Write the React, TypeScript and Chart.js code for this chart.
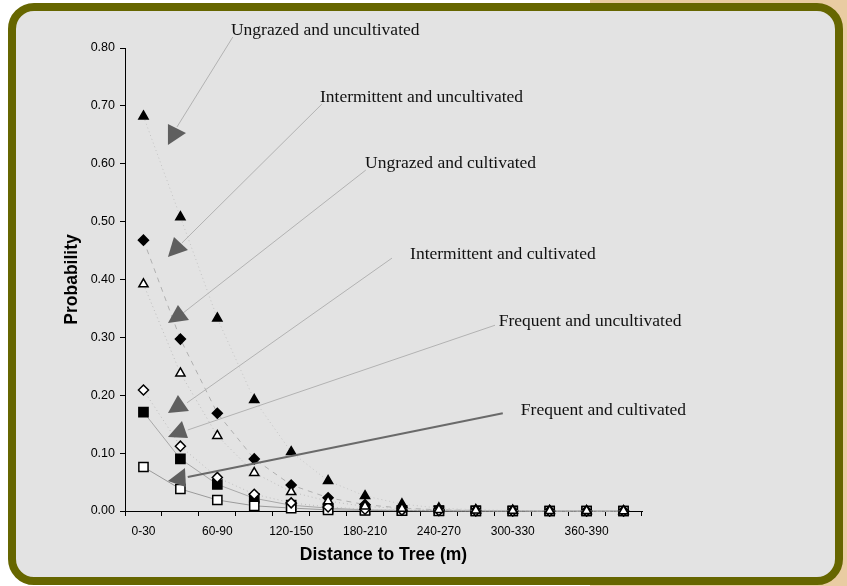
import React, { useEffect, useRef } from "react";
import { Chart, registerables } from "chart.js";

Chart.register(...registerables);

// ---- data ----
const categories = [
  "0-30", "30-60", "60-90", "90-120", "120-150", "150-180", "180-210",
  "210-240", "240-270", "270-300", "300-330", "330-360", "360-390", "390-420",
];
const ungrazedUncultivated = [0.682, 0.508, 0.333, 0.192, 0.102, 0.052, 0.026, 0.012, 0.005, 0.002, 0.001, 0.0005, 0.0002, 0.0001];
const intermittentUncultivated = [0.468, 0.297, 0.169, 0.09, 0.045, 0.023, 0.011, 0.005, 0.002, 0.001, 0.0005, 0.0002, 0.0001, 0];
const ungrazedCultivated = [0.392, 0.238, 0.13, 0.066, 0.033, 0.017, 0.008, 0.004, 0.002, 0.001, 0.0005, 0.0002, 0.0001, 0];
const intermittentCultivated = [0.209, 0.112, 0.058, 0.029, 0.014, 0.007, 0.003, 0.0015, 0.0007, 0.0003, 0.0001, 0, 0, 0];
const frequentUncultivated = [0.171, 0.09, 0.046, 0.022, 0.01, 0.005, 0.002, 0.001, 0.0005, 0.0002, 0.0001, 0, 0, 0];
const frequentCultivated = [0.076, 0.038, 0.019, 0.009, 0.005, 0.002, 0.001, 0.0005, 0.0002, 0.0001, 0, 0, 0, 0];

const yMin = 0;
const yMax = 0.8;
const yStep = 0.1;
const xTitle = "Distance to Tree (m)";
const yTitle = "Probability";

// annotation labels (positions in data units: category index, probability)
const annotationLabels = [
  "Ungrazed and uncultivated",
  "Intermittent and uncultivated",
  "Ungrazed and cultivated",
  "Intermittent and cultivated",
  "Frequent and uncultivated",
  "Frequent and cultivated",
];
const annotationTextAt = [
  [2.37, 0.831], [4.78, 0.714], [6.0, 0.6], [7.22, 0.444], [9.62, 0.328], [10.22, 0.1745],
];
const annotationLineFrom = [
  [2.42, 0.819], [4.83, 0.703], [6.02, 0.589], [6.73, 0.437], [9.52, 0.321], [9.73, 0.169],
];
const annotationLineTo = [
  [0.907, 0.6635], [1.04, 0.463], [1.07, 0.342], [1.18, 0.187], [1.2, 0.14], [1.2, 0.0588],
];
const annotationHeads = [
  [[0.663, 0.6687], [1.151, 0.6532], [0.663, 0.6324]],
  [[0.826, 0.4734], [1.205, 0.451], [0.663, 0.4389]],
  [[0.934, 0.356], [1.232, 0.33], [0.663, 0.3248]],
  [[0.934, 0.2004], [1.232, 0.1728], [0.663, 0.1693]],
  [[1.0425, 0.1555], [1.205, 0.1261], [0.663, 0.1279]],
  [[1.124, 0.0743], [1.151, 0.0415], [0.663, 0.0518]],
];
const annotationDark = [false, false, false, false, false, true];

const arrowsPlugin = {
  id: "arrows",
  afterDatasetsDraw(chart: any) {
    const { ctx } = chart;
    const xs = chart.scales.x;
    const ys = chart.scales.y;
    const px = (v: number) => xs.getPixelForValue(v);
    const py = (v: number) => ys.getPixelForValue(v);
    ctx.save();
    annotationLabels.forEach((label, i) => {
      const dark = annotationDark[i];
      ctx.beginPath();
      ctx.strokeStyle = dark ? "#6a6a6a" : "#b2b2b2";
      ctx.lineWidth = dark ? 2 : 1;
      ctx.setLineDash([]);
      ctx.moveTo(px(annotationLineFrom[i][0]), py(annotationLineFrom[i][1]));
      ctx.lineTo(px(annotationLineTo[i][0]), py(annotationLineTo[i][1]));
      ctx.stroke();

      const h = annotationHeads[i];
      ctx.beginPath();
      ctx.fillStyle = "#5f5f5f";
      ctx.moveTo(px(h[0][0]), py(h[0][1]));
      ctx.lineTo(px(h[1][0]), py(h[1][1]));
      ctx.lineTo(px(h[2][0]), py(h[2][1]));
      ctx.closePath();
      ctx.fill();

      ctx.font = '17.5px "Liberation Serif", "Times New Roman", serif';
      ctx.fillStyle = "#111111";
      ctx.textAlign = "left";
      ctx.textBaseline = "middle";
      ctx.fillText(label, px(annotationTextAt[i][0]), py(annotationTextAt[i][1]));
    });
    ctx.restore();
  },
};

export default function App() {
  const canvasRef = useRef<HTMLCanvasElement | null>(null);

  useEffect(() => {
    if (!canvasRef.current) return;
    const base = {
      showLine: true,
      clip: false as any,
      borderWidth: 1,
      pointBorderColor: "#000000",
      pointBorderWidth: 1.5,
      tension: 0,
    };
    const chart = new Chart(canvasRef.current, {
      type: "line",
      data: {
        labels: categories,
        datasets: [
          {
            ...base,
            label: "Ungrazed and cultivated",
            data: ungrazedCultivated,
            borderColor: "#bdbdbd",
            borderDash: [1, 3],
            pointStyle: "triangle",
            pointRadius: 5.3,
            pointBackgroundColor: "#ffffff",
          },
          {
            ...base,
            label: "Ungrazed and uncultivated",
            data: ungrazedUncultivated,
            borderColor: "#c4c4c4",
            borderDash: [1, 3],
            pointStyle: "triangle",
            pointRadius: 5.3,
            pointBackgroundColor: "#000000",
          },
          {
            ...base,
            label: "Intermittent and cultivated",
            data: intermittentCultivated,
            borderColor: "#bdbdbd",
            borderDash: [1, 3],
            pointStyle: "rectRot",
            pointRadius: 5,
            pointBackgroundColor: "#ffffff",
          },
          {
            ...base,
            label: "Intermittent and uncultivated",
            data: intermittentUncultivated,
            borderColor: "#b0b0b0",
            borderDash: [5, 5],
            pointStyle: "rectRot",
            pointRadius: 5,
            pointBackgroundColor: "#000000",
          },
          {
            ...base,
            label: "Frequent and cultivated",
            data: frequentCultivated,
            borderColor: "#9a9a9a",
            pointStyle: "rect",
            pointRadius: 6.5,
            pointBackgroundColor: "#ffffff",
          },
          {
            ...base,
            label: "Frequent and uncultivated",
            data: frequentUncultivated,
            borderColor: "#a8a8a8",
            pointStyle: "rect",
            pointRadius: 6.5,
            pointBackgroundColor: "#000000",
          },
        ],
      },
      options: {
        responsive: false,
        animation: false,
        devicePixelRatio: 1,
        layout: { padding: { left: 58, top: 48, right: 205, bottom: 16 } },
        plugins: { legend: { display: false }, tooltip: { enabled: false } },
        scales: {
          x: {
            type: "category",
            offset: true,
            afterFit: (s: any) => { s.height = 59; },
            grid: {
              offset: true,
              drawOnChartArea: false,
              drawTicks: true,
              tickLength: 5,
              color: "#000000",
            },
            border: { display: true, color: "#000000", width: 1 },
            ticks: {
              autoSkip: false,
              maxRotation: 0,
              padding: 8,
              color: "#000000",
              font: { family: '"Liberation Sans", Arial, sans-serif', size: 12 },
              callback: (_v: any, i: number) => (i % 2 === 0 ? categories[i] : ""),
            },
            title: {
              display: true,
              text: xTitle,
              color: "#000000",
              font: { family: '"Liberation Sans", Arial, sans-serif', size: 17.5, weight: "bold" },
              padding: 4,
            },
          },
          y: {
            type: "linear",
            min: yMin,
            max: yMax,
            afterFit: (s: any) => { s.width = 67; },
            grid: {
              drawOnChartArea: false,
              drawTicks: true,
              tickLength: 5,
              color: "#000000",
            },
            border: { display: true, color: "#000000", width: 1 },
            ticks: {
              stepSize: yStep,
              padding: 5,
              color: "#000000",
              font: { family: '"Liberation Sans", Arial, sans-serif', size: 12.5 },
              callback: (v: any) => Number(v).toFixed(2),
            },
            title: {
              display: true,
              text: yTitle,
              color: "#000000",
              font: { family: '"Liberation Sans", Arial, sans-serif', size: 17.5, weight: "bold" },
              padding: 4,
            },
          },
        },
      } as any,
      plugins: [arrowsPlugin],
    });
    return () => chart.destroy();
  }, []);

  return (
    <div style={{ position: "absolute", left: 0, top: 0, width: 847, height: 586, background: "#ffffff", overflow: "hidden" }}>
      <div style={{ position: "absolute", left: 590, top: 0, right: 0, bottom: 0, background: "#e9cca2" }} />
      <div
        style={{
          position: "absolute",
          left: 8,
          top: 3,
          width: 835,
          height: 582,
          boxSizing: "border-box",
          border: "8px solid #666600",
          borderRadius: 26,
          background: "#e3e3e3",
        }}
      />
      <canvas ref={canvasRef} width={847} height={586} style={{ position: "absolute", left: 0, top: 0, width: 847, height: 586 }} />
    </div>
  );
}
